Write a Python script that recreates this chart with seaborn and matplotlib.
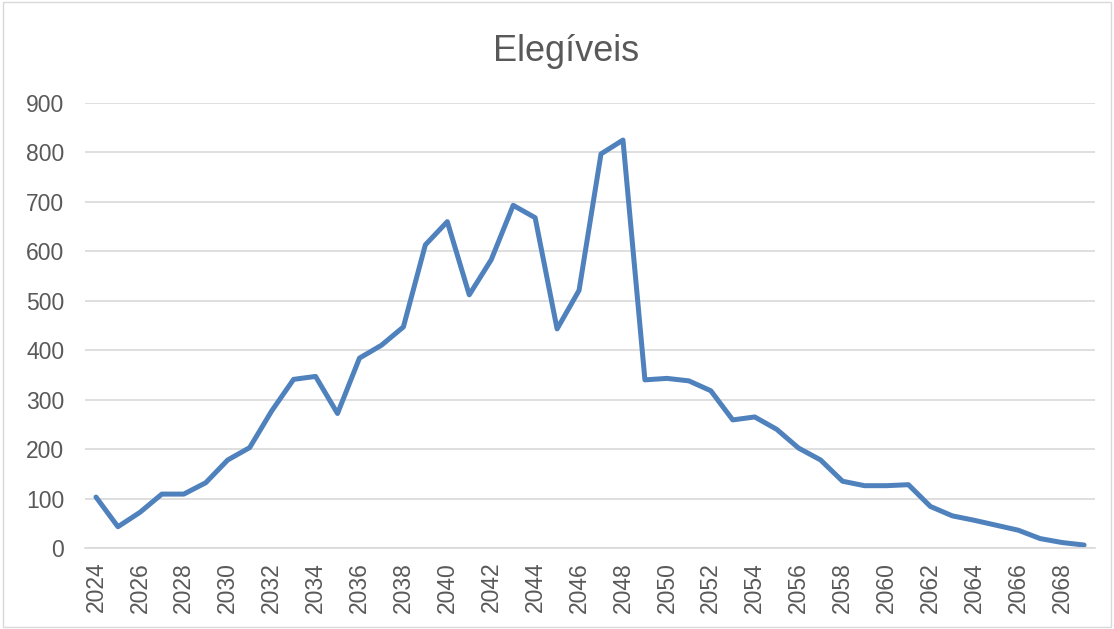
import pandas as pd
import numpy as np
import seaborn as sns
import matplotlib.pyplot as plt

anos = list(range(2024, 2070))
elegiveis = [103, 43, 72, 109, 109, 132, 178, 203, 277, 341,
             347, 272, 384, 410, 447, 613, 660, 512, 583, 693,
             668, 443, 521, 797, 825, 340, 343, 338, 318, 259,
             265, 240, 202, 178, 135, 126, 126, 128, 84, 65,
             56, 46, 36, 19, 11, 6]
yticks = [0, 100, 200, 300, 400, 500, 600, 700, 800, 900]

df = pd.DataFrame({'ano': anos, 'elegiveis': elegiveis})

sns.set_style('white')
plt.rcParams['font.family'] = ['Liberation Sans', 'DejaVu Sans']

fig = plt.figure(figsize=(11.14, 6.29), dpi=100)
ax = fig.add_axes([0.0763, 0.1288, 0.9067, 0.7075])

sns.lineplot(data=df, x='ano', y='elegiveis', color='#4F81BD', linewidth=3.6,
             ax=ax, solid_joinstyle='round', solid_capstyle='round')

ax.set_xlim(2023.5, 2069.5)
ax.set_ylim(0, 900)
ax.set_yticks(yticks)
ax.set_xticks(anos[::2])
ax.set_xticklabels([str(a) for a in anos[::2]], rotation=90)
ax.tick_params(axis='both', length=0, labelsize=16.5, colors='#595959')
ax.tick_params(axis='y', pad=15)
ax.tick_params(axis='x', pad=10)
ax.yaxis.grid(True, color='#D9D9D9', linewidth=1.2)
ax.set_axisbelow(True)
for s in ['top', 'right', 'left']:
    ax.spines[s].set_visible(False)
ax.spines['bottom'].set_color('#D9D9D9')
ax.spines['bottom'].set_linewidth(1.2)
ax.set_xlabel('')
ax.set_ylabel('')

fig.text(0.508, 0.918, 'Elegíveis', ha='center', va='center', fontsize=26, color='#595959')

# moldura do gráfico
fig.patches.append(plt.Rectangle((0.003, 0.003), 0.994, 0.994, transform=fig.transFigure,
                                 fill=False, edgecolor='#D9D9D9', linewidth=1))

fig.savefig('out.png', dpi=100)
